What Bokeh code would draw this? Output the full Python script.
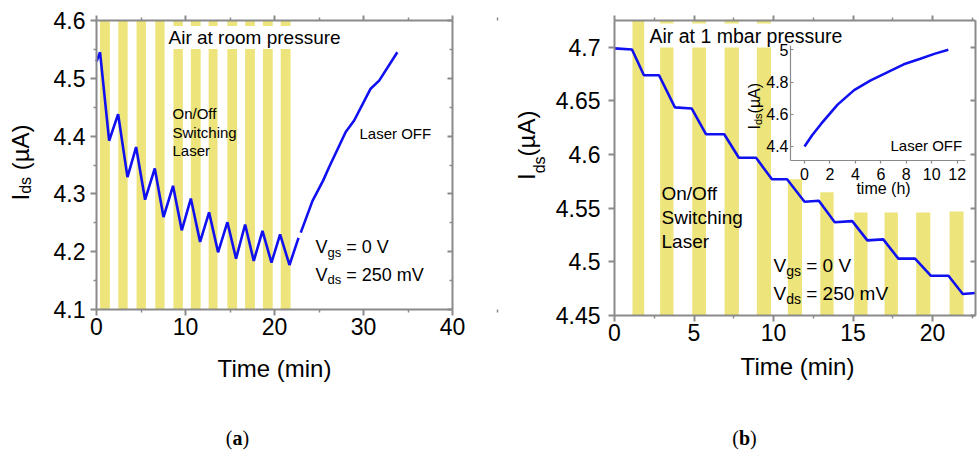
import math
from bokeh.plotting import figure
from bokeh.models import Label, LinearAxis, Range1d, FixedTicker
from bokeh.layouts import row
from bokeh.embed import file_html
from bokeh.resources import INLINE

# ------------------------------------------------------------------ data (a)
a_bar_start = [0.4, 2.45, 4.5, 6.6, 8.65, 10.6, 12.6, 14.7, 16.7, 18.7, 20.7]
a_bar_end = [1.5, 3.5, 5.55, 7.65, 9.7, 11.7, 13.6, 15.8, 17.8, 19.8, 21.8]
a_switch_t = [0, 0.4, 1.42, 2.43, 3.48, 4.45, 5.46, 6.55, 7.53, 8.6, 9.58, 10.6,
              11.64, 12.65, 13.66, 14.71, 15.68, 16.7, 17.67, 18.65, 19.66, 20.63, 21.68, 22.7]
a_switch_i = [4.529, 4.545, 4.392, 4.438, 4.329, 4.381, 4.290, 4.344, 4.260, 4.314, 4.237, 4.292,
              4.217, 4.268, 4.199, 4.251, 4.188, 4.247, 4.184, 4.236, 4.181, 4.230, 4.177, 4.224]
a_off_t = [22.95, 24.27, 25.46, 26.13, 28.0, 28.95, 30.8, 31.76, 33.8]
a_off_i = [4.233, 4.288, 4.323, 4.346, 4.407, 4.427, 4.482, 4.496, 4.545]
a_x_lim = (0, 40)
a_y_lim = (4.1, 4.6)
a_x_ticks = [0, 10, 20, 30, 40]
a_y_ticks = [4.1, 4.2, 4.3, 4.4, 4.5, 4.6]

# ------------------------------------------------------------------ data (b)
b_bar_start = [1.13, 2.87, 4.89, 6.92, 8.95, 10.9, 12.94, 15.07, 16.98, 18.97, 21.07]
b_bar_end = [1.87, 3.71, 5.75, 7.82, 9.84, 11.79, 13.78, 15.91, 17.82, 19.86, 21.95]
b_bar_top = [4.725, 4.725, 4.725, 4.725, 4.725, 4.577, 4.565, 4.546, 4.546, 4.546, 4.547]
b_t = [0, 1.1, 1.85, 2.8, 3.8, 4.85, 5.75, 6.9, 7.82, 8.9, 9.9, 10.85, 11.95, 12.85,
       13.85, 14.95, 15.9, 16.9, 17.85, 18.9, 19.9, 21.0, 21.9, 22.7]
b_i = [4.699, 4.698, 4.674, 4.674, 4.644, 4.643, 4.619, 4.619, 4.597, 4.597, 4.577, 4.577,
       4.556, 4.557, 4.537, 4.538, 4.520, 4.521, 4.503, 4.503, 4.487, 4.487, 4.470, 4.471]
b_x_lim = (0, 22.7)
b_y_lim = (4.45, 4.725)
b_x_ticks = [0, 5, 10, 15, 20]
b_y_ticks = [4.45, 4.5, 4.55, 4.6, 4.65, 4.7]
b_y_labels = ["4.45", "4.5", "4.55", "4.6", "4.65", "4.7"]

# inset of (b): recovery with the laser off
inset_t = [0, 0.6, 1.3, 2.6, 3.9, 5.2, 6.5, 7.8, 9.1, 10.2, 11.3]
inset_i = [4.40, 4.47, 4.54, 4.66, 4.75, 4.81, 4.86, 4.91, 4.945, 4.975, 5.0]
inset_x_lim = (-1.1, 12.65)
inset_y_lim = (4.313, 5.027)
inset_x_ticks = [0, 2, 4, 6, 8, 10, 12]
inset_y_ticks = [4.4, 4.6, 4.8, 5.0]
inset_y_labels = ["4.4", "4.6", "4.8", "5"]

# ------------------------------------------------------------------ layout / styles
H = 451
WA = 500                 # width of the canvas of panel (a)
WB = 977 - WA            # width of the canvas of panel (b)
BOX_A = (96, 452, 20, 309)      # plot box of (a): left, right, top, bottom (page px)
BOX_B = (614, 975, 20, 315)
BOX_IN = (790, 965, 45, 160)    # inset box
FIX = 5                  # baseline correction of Label text (px)

SANS = "Liberation Sans"
SERIF = "Liberation Serif"
BAR = "#EDE47B"
BLUE = "#1010F0"
AX = "#8a8a8a"

EM = {'I': .278, 'd': .556, 's': .5, 'g': .556, ' ': .278, '(': .333, ')': .333,
      'µ': .576, 'A': .667, 'V': .667, '=': .584, '0': .556, '2': .556, '5': .556, 'm': .833}
SERIF_EM = {'(': .333, ')': .333, 'a': .5, 'b': .556, ' ': .25}


def ranges_for(x0, width, box, xlim, ylim):
    l, r, t, b = box
    kx = (xlim[1] - xlim[0]) / (r - l)
    ky = (ylim[1] - ylim[0]) / (b - t)
    return (Range1d(xlim[0] - (l - x0) * kx, xlim[1] + (x0 + width - r) * kx),
            Range1d(ylim[0] - (H - b) * ky, ylim[1] + t * ky))


def canvas(x0, width, box, xlim, ylim):
    xr, yr = ranges_for(x0, width, box, xlim, ylim)
    p = figure(x_range=xr, y_range=yr, width=width, height=H,
               min_border_left=0, min_border_right=0, min_border_top=0, min_border_bottom=0,
               x_axis_location=None, y_axis_location=None,
               output_backend="svg", toolbar_location=None, outline_line_color=None,
               background_fill_color="white", border_fill_color="white")
    p.grid.visible = False
    return p


def axis(p, side, loc, bounds, ticks, minor=(), labels=True, tin=0, tout=6, mtin=0, mtout=3,
         size=23, standoff=3, lw=2, overrides=None, rn=("default", "default")):
    ax = LinearAxis(fixed_location=loc, bounds=bounds,
                    ticker=FixedTicker(ticks=list(ticks), minor_ticks=list(minor)),
                    x_range_name=rn[0], y_range_name=rn[1])
    if overrides:
        ax.major_label_overrides = overrides
    ax.axis_line_color = AX
    ax.axis_line_width = lw
    ax.major_tick_line_color = AX
    ax.major_tick_line_width = lw
    ax.minor_tick_line_color = AX
    ax.minor_tick_line_width = 1.5
    ax.major_tick_in = tin
    ax.major_tick_out = tout
    ax.minor_tick_in = mtin
    ax.minor_tick_out = mtout
    ax.major_label_standoff = standoff
    ax.major_label_text_font = SANS
    ax.major_label_text_font_size = f"{size}px"
    ax.major_label_text_color = "black" if labels else None
    p.add_layout(ax, side)
    return ax


def frame_axes(p, xlim, ylim, xticks, yticks, xminor=(), yminor=(), yover=None, ystand=5):
    axis(p, "below", ylim[0], xlim, xticks, xminor, tout=6, mtout=3, standoff=2)
    axis(p, "left", xlim[0], ylim, yticks, yminor, tout=6, mtout=3, standoff=ystand, overrides=yover)
    axis(p, "above", ylim[1], xlim, xticks, xminor, labels=False, tout=5, mtout=3)
    axis(p, "right", xlim[1], ylim, yticks, yminor, labels=False, tin=5, tout=0, mtin=3, mtout=0)


def minors(ticks):
    step = ticks[1] - ticks[0]
    return [t + step / 2 for t in ticks]


def label(p, x0, text, rx, ry, size, align="left", bg=None):
    kw = dict(background_fill_color=bg, padding=1) if bg else {}
    p.add_layout(Label(x=rx - x0, y=H - ry + FIX, x_units="screen", y_units="screen", text=text,
                       text_font=SANS, text_font_size=f"{size}px", text_color="black",
                       text_baseline="alphabetic", text_align=align, **kw))


def rich(p, x0, pieces, rx, ry, angle=0.0, font=SANS, widths=EM, fix=FIX):
    """Run of text pieces (text, size, drop, style) set one after another."""
    ca, sa = math.cos(angle), math.sin(angle)
    sx, sy = rx - x0, H - ry
    adv = 0.0
    for txt, size, drop, style in pieces:
        lead = len(txt) - len(txt.lstrip(" "))
        adv += lead * widths[" "] * size
        txt = txt.strip(" ")
        d = drop - fix
        p.add_layout(Label(x=sx + adv * ca + d * sa, y=sy + adv * sa - d * ca,
                           x_units="screen", y_units="screen", text=txt, angle=angle,
                           text_font=font, text_font_size=f"{size}px", text_font_style=style,
                           text_color="black", text_baseline="alphabetic", text_align="left"))
        adv += sum(widths.get(c, 0.55) for c in txt) * size


def caption(p, x0, letter, cx, ry):
    pieces = [("(", 20, 0, "normal"), (letter, 20, 0, "bold"), (")", 20, 0, "normal")]
    total = sum(sum(SERIF_EM.get(c, 0.5) for c in t) * s for t, s, _, _ in pieces)
    rich(p, x0, pieces, cx - total / 2, ry, font=SERIF, widths=SERIF_EM)


ROT = math.pi / 2

# ================================================================== panel (a)
p1 = canvas(0, WA, BOX_A, a_x_lim, a_y_lim)
p1.quad(left=a_bar_start, right=a_bar_end, bottom=a_y_lim[0], top=a_y_lim[1],
        fill_color=BAR, line_color=None)
p1.line(a_switch_t, a_switch_i, line_color=BLUE, line_width=2.6)
p1.line(a_off_t, a_off_i, line_color=BLUE, line_width=2.6)
frame_axes(p1, a_x_lim, a_y_lim, a_x_ticks, a_y_ticks, minors(a_x_ticks), minors(a_y_ticks))

label(p1, 0, "Air at room pressure", 167, 42, 19, bg="white")
label(p1, 0, "On/Off", 172, 118, 15)
label(p1, 0, "Switching", 172, 137, 15)
label(p1, 0, "Laser", 172, 155, 15)
label(p1, 0, "Laser OFF", 359, 138, 15)
rich(p1, 0, [("V", 18, 0, "normal"), ("gs", 13, 5, "normal"), (" = 0 V", 18, 0, "normal")], 315, 251.7)
rich(p1, 0, [("V", 18, 0, "normal"), ("ds", 13, 5, "normal"), (" = 250 mV", 18, 0, "normal")], 315, 279.3)
rich(p1, 0, [("I", 24, 0, "normal"), ("ds", 16, 5, "normal"), (" (µA)", 24, 0, "normal")],
     31.5, 200, angle=ROT, fix=12)
label(p1, 0, "Time (min)", 274, 373, 24, align="center")
caption(p1, 0, "a", 237, 442)

# ================================================================== panel (b)
p2 = canvas(WA, WB, BOX_B, b_x_lim, b_y_lim)
p2.quad(left=b_bar_start, right=b_bar_end, bottom=b_y_lim[0], top=b_bar_top,
        fill_color=BAR, line_color=None)
p2.line(b_t, b_i, line_color=BLUE, line_width=2.6)
frame_axes(p2, b_x_lim, b_y_lim, b_x_ticks, b_y_ticks, minors(b_x_ticks), (),
           yover=dict(zip(b_y_ticks, b_y_labels)), ystand=8)

label(p2, WA, "Air at 1 mbar pressure", 648, 40, 19.5, bg="white")
label(p2, WA, "On/Off", 661, 198, 19)
label(p2, WA, "Switching", 661, 222, 19)
label(p2, WA, "Laser", 661, 246, 19)
rich(p2, WA, [("V", 19, 0, "normal"), ("gs", 14, 5, "normal"), (" = 0 V", 19, 0, "normal")], 773, 270)
rich(p2, WA, [("V", 19, 0, "normal"), ("ds", 14, 5, "normal"), (" = 250 mV", 19, 0, "normal")], 773, 298.3)
rich(p2, WA, [("I", 24, 0, "normal"), ("ds", 16, 13, "normal"), ("(µA)", 24, 0, "normal")],
     538, 179.5, angle=ROT, fix=12)
label(p2, WA, "Time (min)", 797, 371, 24, align="center")
caption(p2, WA, "b", 744, 442)

# inset, mapped into the canvas of (b) through extra ranges
ixr, iyr = ranges_for(WA, WB, BOX_IN, inset_x_lim, inset_y_lim)
p2.extra_x_ranges = {"ix": ixr}
p2.extra_y_ranges = {"iy": iyr}
p2.line(inset_t, inset_i, x_range_name="ix", y_range_name="iy", line_color=BLUE, line_width=2.6)
iax_y = axis(p2, "left", inset_x_lim[0], inset_y_lim, inset_y_ticks, tin=3, tout=0, size=16,
             standoff=2, lw=1.2, overrides=dict(zip(inset_y_ticks, inset_y_labels)), rn=("ix", "iy"))
iax_x = axis(p2, "below", inset_y_lim[0], inset_x_lim, inset_x_ticks, tin=0, tout=3, size=16,
             standoff=4, lw=1.2, rn=("ix", "iy"))
iax_y.level = "overlay"
iax_x.level = "overlay"
rich(p2, WA, [("I", 16, 0, "normal"), ("ds", 11, 3, "normal"), ("(µA)", 16, 0, "normal")],
     760, 129, angle=ROT, fix=6)
label(p2, WA, "time (h)", 883, 193, 16, align="center")
label(p2, WA, "Laser OFF", 890, 150, 15)

layout = row(p1, p2)
open("out.html", "w").write(file_html(layout, INLINE))
